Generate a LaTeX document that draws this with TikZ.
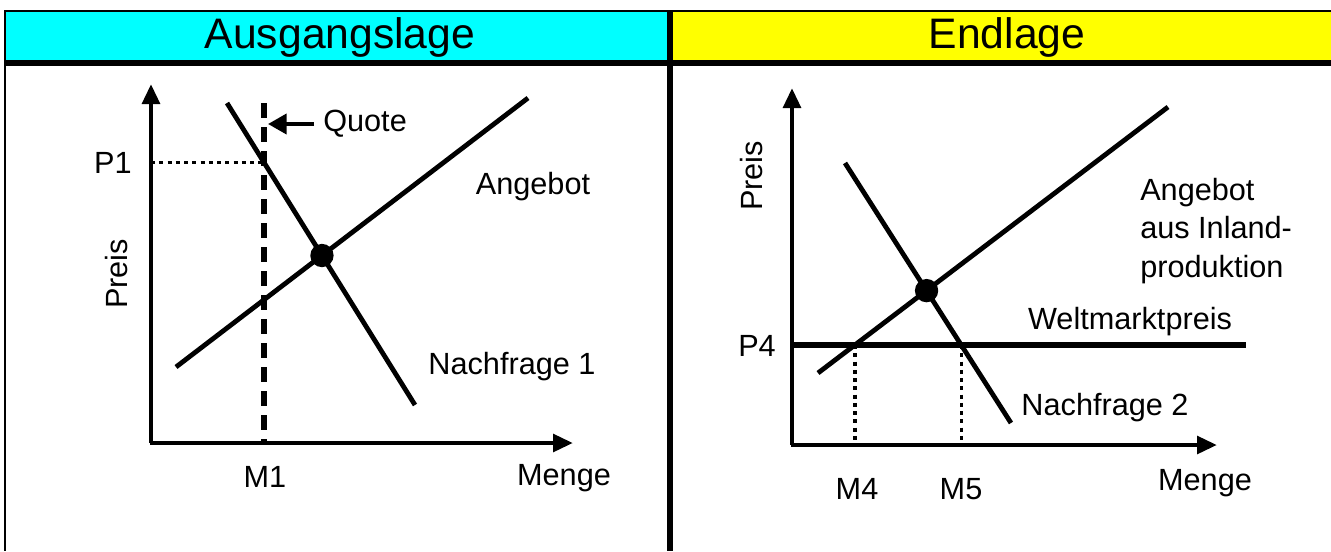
\documentclass[tikz,border=0pt]{standalone}
\usepackage{fontspec}
\setmainfont{Liberation Sans}
\usetikzlibrary{arrows.meta,calc}
\definecolor{hcyan}{RGB}{0,255,255}
\definecolor{hyellow}{RGB}{255,255,0}
\tikzset{
  frameline/.style={line width=2.2pt},
  thickframe/.style={line width=3.8pt},
  axis/.style={line width=3.5pt,-{Triangle[length=15pt,width=13pt]}},
  curve/.style={line width=3.6pt},
  quoteline/.style={line width=4.5pt,dash pattern=on 11.5pt off 6.5pt},
  dotline/.style={line width=2.6pt,dash pattern=on 3pt off 3.2pt},
  lbl/.style={font=\fontsize{23}{27}\selectfont,inner sep=0pt},
  hdr/.style={font=\fontsize{32}{36}\selectfont,inner sep=0pt},
  dot/.style={circle,fill=black,minimum size=17.5pt,inner sep=0pt}
}
\begin{document}
\begin{tikzpicture}[x=0.75pt,y=-0.75pt]
\useasboundingbox (0,0) rectangle (1331,551);
% header bands
\fill[hcyan] (5,11) rectangle (670,63);
\fill[hyellow] (670,11) rectangle (1331,63);
\draw[frameline] (4,11) -- (1331,11);
\draw[frameline] (5,10) -- (5,551);
\draw[thickframe] (5,63) -- (1331,63);
\draw[thickframe] (670,10) -- (670,551);
\node[hdr] (h1) at (340,37) {Ausgangslage};
\node[hdr] (h2) at (1007,37) {Endlage};

% ---------- left chart ----------
\coordinate (O1) at (151,443);
\coordinate (Y1) at (151,84);
\coordinate (X1) at (573,443);
\draw[axis] (O1) -- (Y1);
\draw[axis] ($(O1)+(-1.5,0)$) -- (X1);
\coordinate (Dt) at (227,103);
\coordinate (Db) at (415,405);
\coordinate (Sb) at (176,367);
\coordinate (St) at (528,98);
\coordinate (Qt) at (264,103);
\coordinate (Qb) at (264,441);
\draw[quoteline] (Qt) -- (Qb);
\coordinate (QP) at (intersection of Qt--Qb and Dt--Db);
\coordinate (P1y) at (O1 |- QP);
\draw[dotline] (P1y) -- (QP);
\draw[curve] (Dt) -- (Db);
\draw[curve] (Sb) -- (St);
\node[dot] (E1) at (intersection of Dt--Db and Sb--St) {};
\node[lbl,anchor=west] (quote) at (323,124) {Quote};
\coordinate (Qarr) at (268,124);
\draw[line width=3pt,-{Triangle[length=14pt,width=15pt]}] (quote.west) ++(-9,0) coordinate (Qs) -- (Qarr);
\node[lbl] (p1) at (113,163) {P1};
\node[lbl,rotate=90] (preis1) at (117,274) {Preis};
\node[lbl] (ang1) at (533,187) {Angebot};
\node[lbl] (nf1) at (512,367) {Nachfrage 1};
\node[lbl] (m1) at (265,477) {M1};
\node[lbl] (menge1) at (564,478) {Menge};

% ---------- right chart ----------
\coordinate (O2) at (792,445);
\coordinate (Y2) at (792,88);
\coordinate (X2) at (1217,445);
\draw[axis] (O2) -- (Y2);
\draw[axis] ($(O2)+(-1.5,0)$) -- (X2);
\coordinate (S2b) at (818,373);
\coordinate (S2t) at (1168,107);
\coordinate (D2t) at (845,163);
\coordinate (D2b) at (1011,423);
\coordinate (Wl) at (792,345);
\coordinate (Wr) at (1246,345);
\draw[curve] (S2b) -- (S2t);
\draw[curve] (D2t) -- (D2b);
\draw[curve,line width=4.3pt] (Wl) -- (Wr);
\coordinate (M4t) at (intersection of S2b--S2t and Wl--Wr);
\coordinate (M5t) at (intersection of D2t--D2b and Wl--Wr);
\draw[dotline] (M4t) -- (M4t |- O2);
\draw[dotline] (M5t) -- (M5t |- O2);
\node[dot] (E2) at (intersection of S2b--S2t and D2t--D2b) {};
\node[lbl,rotate=90] (preis2) at (752,176) {Preis};
\node[lbl] (p4) at (757,346) {P4};
\node[lbl] (wmp) at (1130,322) {Weltmarktpreis};
\node[lbl] (nf2) at (1105,408) {Nachfrage 2};
\node[lbl,anchor=west,align=left,font=\fontsize{23}{29}\selectfont] (ang2) at (1140,231) {Angebot\\aus Inland-\\produktion};
\node[lbl] (m4) at (857,489) {M4};
\node[lbl] (m5) at (961,489) {M5};
\node[lbl] (menge2) at (1205,483) {Menge};
\end{tikzpicture}
\end{document}
